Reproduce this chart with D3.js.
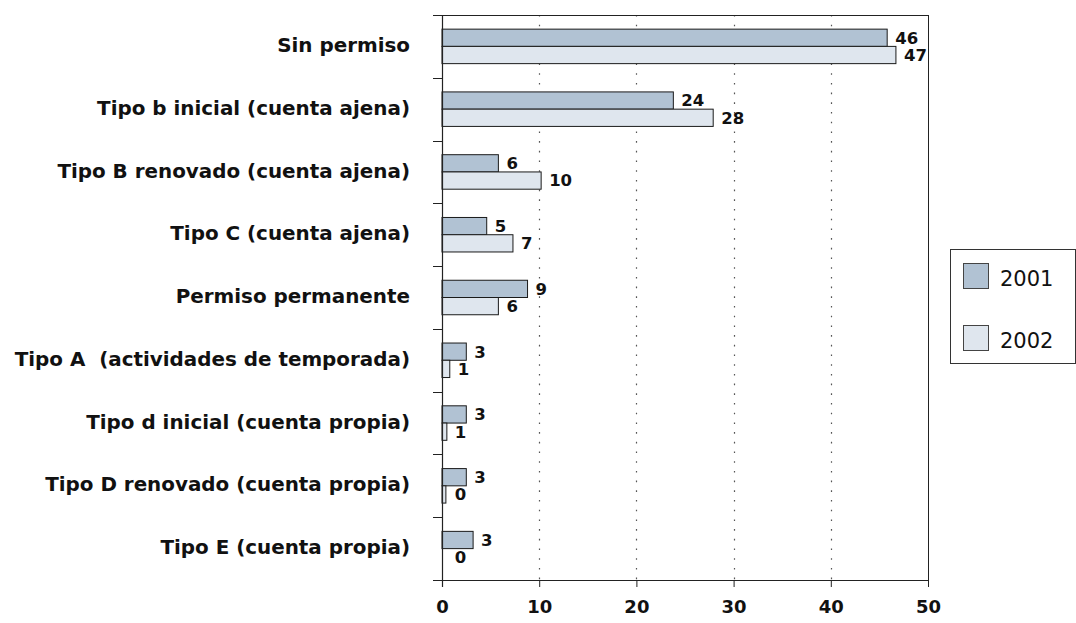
<!DOCTYPE html>
<html lang="es">
<head>
<meta charset="utf-8">
<script src="https://cdn.jsdelivr.net/npm/d3@7"></script>
<style>
  html, body { margin: 0; padding: 0; background: #fff; }
  svg { display: block; }
  text { font-family: "DejaVu Sans", sans-serif; fill: #111; }
</style>
</head>
<body>
<svg id="chart" width="1076" height="623"></svg>
<script>
// Permit categories, top to bottom
const categories = [
  "Sin permiso",
  "Tipo b inicial (cuenta ajena)",
  "Tipo B renovado (cuenta ajena)",
  "Tipo C (cuenta ajena)",
  "Permiso permanente",
  "Tipo A  (actividades de temporada)",
  "Tipo d inicial (cuenta propia)",
  "Tipo D renovado (cuenta propia)",
  "Tipo E (cuenta propia)"
];
const series = ["2001", "2002"];
const values2001 = [45.8, 23.8, 5.8, 4.6, 8.8, 2.5, 2.5, 2.5, 3.2];
const values2002 = [46.7, 27.9, 10.2, 7.3, 5.8, 0.8, 0.5, 0.4, 0];
const xTicks = [0, 10, 20, 30, 40, 50];

const colors = { "2001": "#b1c2d3", "2002": "#dfe6ee" };

const svg = d3.select("#chart");
const plot = { left: 442, right: 928, top: 15, bottom: 580 };

const x = d3.scaleLinear().domain([0, 50]).range([plot.left, plot.right]);
const y = d3.scaleBand().domain(categories).range([plot.top, plot.bottom]).paddingInner(0).paddingOuter(0);
const ySub = d3.scaleBand().domain(series).range([0, y.bandwidth()]).paddingInner(0).paddingOuter(0.82);

const rows = categories.map((c, i) => ({ cat: c, "2001": values2001[i], "2002": values2002[i] }));
const fmt = v => String(Math.round(v));

// dotted vertical gridlines
svg.append("g").selectAll("line")
  .data(xTicks.filter(t => t > 0 && t < 50))
  .join("line")
  .attr("x1", d => Math.round(x(d)) + 0.5).attr("x2", d => Math.round(x(d)) + 0.5)
  .attr("y1", plot.top).attr("y2", plot.bottom)
  .attr("stroke", "#555").attr("stroke-width", 1.2)
  .attr("stroke-dasharray", "1.6,8.1");

// bars
const groups = svg.append("g").selectAll("g")
  .data(rows)
  .join("g")
  .attr("transform", d => `translate(0,${y(d.cat)})`);

groups.selectAll("rect")
  .data(d => series.map(s => ({ s, v: d[s] })))
  .join("rect")
  .attr("x", x(0))
  .attr("y", d => ySub(d.s))
  .attr("width", d => x(d.v) - x(0))
  .attr("height", ySub.bandwidth())
  .attr("fill", d => colors[d.s])
  .attr("stroke", "#1a1a1a")
  .attr("stroke-width", 1);

// value labels, kept clear of the axis for tiny bars
groups.selectAll("text")
  .data(d => series.map(s => ({ s, v: d[s] })))
  .join("text")
  .attr("x", d => Math.max(x(d.v), x(0.5)) + 8)
  .attr("y", d => ySub(d.s) + ySub.bandwidth() / 2)
  .attr("dy", "0.36em")
  .attr("font-size", 16.5)
  .attr("font-weight", "bold")
  .text(d => fmt(d.v));

// frame: top border and right border
const axisColor = "#222";
svg.append("line")
  .attr("x1", plot.left - 9).attr("x2", plot.right)
  .attr("y1", plot.top + 0.5).attr("y2", plot.top + 0.5)
  .attr("stroke", axisColor);
svg.append("line")
  .attr("x1", plot.right + 0.5).attr("x2", plot.right + 0.5)
  .attr("y1", plot.top).attr("y2", plot.bottom + 7)
  .attr("stroke", axisColor);

// bottom value axis
const xAxis = d3.axisBottom(x).tickValues(xTicks).tickSize(7).tickPadding(13).tickFormat(d3.format("d"));
const gx = svg.append("g").attr("transform", `translate(0,${plot.bottom})`).call(xAxis);
gx.select(".domain").remove();
gx.selectAll(".tick line").attr("stroke", axisColor);
gx.selectAll(".tick text")
  .attr("font-size", 18).attr("font-weight", "bold").attr("fill", "#111")
  .attr("font-family", "DejaVu Sans, sans-serif");
svg.append("line")
  .attr("x1", plot.left - 9).attr("x2", plot.right)
  .attr("y1", plot.bottom + 0.5).attr("y2", plot.bottom + 0.5)
  .attr("stroke", axisColor).attr("stroke-width", 1.2);

// left category axis with ticks at band boundaries
svg.append("line")
  .attr("x1", plot.left + 0.5).attr("x2", plot.left + 0.5)
  .attr("y1", plot.top).attr("y2", plot.bottom + 7)
  .attr("stroke", axisColor).attr("stroke-width", 1.2);
const bounds = categories.map(c => y(c)).concat([y.range()[1]]);
svg.append("g").selectAll("line")
  .data(bounds)
  .join("line")
  .attr("x1", plot.left - 9).attr("x2", plot.left)
  .attr("y1", d => Math.round(d) + 0.5).attr("y2", d => Math.round(d) + 0.5)
  .attr("stroke", axisColor);

svg.append("g").selectAll("text")
  .data(categories)
  .join("text")
  .attr("x", 410)
  .attr("y", d => y(d) + y.bandwidth() / 2)
  .attr("dy", "0.28em")
  .attr("text-anchor", "end")
  .attr("font-size", 19.9)
  .attr("font-weight", "bold")
  .style("white-space", "pre")
  .text(d => d);

// legend
const legend = svg.append("g");
legend.append("rect")
  .attr("x", 950.5).attr("y", 249.5).attr("width", 125).attr("height", 114)
  .attr("fill", "#fff").attr("stroke", "#333");
const legendItems = legend.selectAll("g")
  .data(series)
  .join("g")
  .attr("transform", (d, i) => `translate(963,${263 + i * 62})`);
legendItems.append("rect")
  .attr("x", 0.5).attr("y", 0.5).attr("width", 25).attr("height", 25)
  .attr("fill", d => colors[d]).attr("stroke", "#444");
legendItems.append("text")
  .attr("x", 37).attr("y", 23)
  .attr("font-size", 21)
  .text(d => d);
</script>
</body>
</html>
